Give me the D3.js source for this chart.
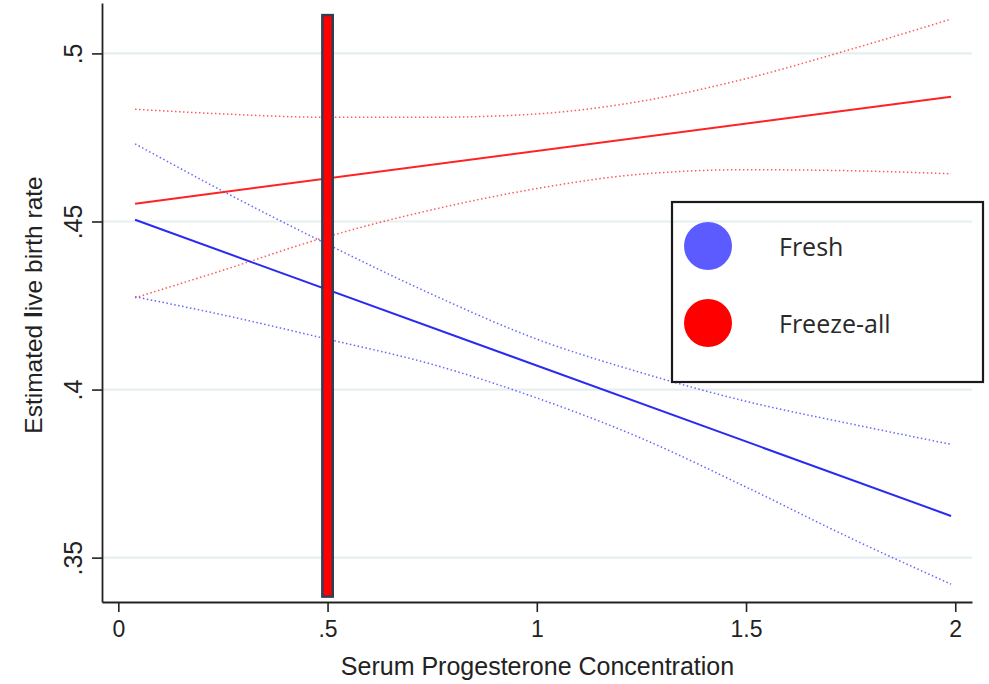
<!DOCTYPE html>
<html>
<head>
<meta charset="utf-8">
<script src="https://cdn.jsdelivr.net/npm/d3@7"></script>
<style>
  html, body { margin: 0; padding: 0; background: #fff; }
  svg { display: block; }
</style>
</head>
<body>
<svg id="chart" width="989" height="684"></svg>
<script>
// ---------- data ----------
const xTicks = [0, 0.5, 1, 1.5, 2];
const xTickLabels = ["0", ".5", "1", "1.5", "2"];
const yTicks = [0.35, 0.4, 0.45, 0.5];
const yTickLabels = [".35", ".4", ".45", ".5"];

const seriesNames = ["Fresh", "Freeze-all"];

// fitted lines (endpoints)
const fitX = [0.04, 1.99];
const freshFit = [0.4505, 0.3624];
const freezeFit = [0.4553, 0.4871];

// confidence bands
const ciX = [0.04, 0.25, 0.5, 0.75, 1.0, 1.25, 1.5, 1.75, 1.99];
const freshUpper = [0.4731, 0.4590, 0.4432, 0.4283, 0.4150, 0.4050, 0.3965, 0.3898, 0.3837];
const freshLower = [0.4276, 0.4222, 0.4150, 0.4075, 0.3975, 0.3855, 0.3710, 0.3558, 0.3421];
const freezeUpper = [0.4834, 0.4820, 0.4810, 0.4810, 0.4820, 0.4858, 0.4925, 0.5012, 0.5102];
const freezeLower = [0.4273, 0.4355, 0.4455, 0.4535, 0.4598, 0.4641, 0.4654, 0.4651, 0.4642];

// vertical marker bar at 0.5
const barX = 0.5;
const barTop = 0.5114;
const barBottom = 0.3384;

// ---------- layout ----------
const svg = d3.select("#chart");
const plotL = 102, plotR = 972, plotT = 3, plotB = 602;

const x = d3.scaleLinear().domain([-0.039, 2.040]).range([plotL, plotR]);
const y = d3.scaleLinear().domain([0.3368, 0.515]).range([plotB, plotT]);

const blue = "#2a2af2", red = "#ff2222";
const blueCI = "#4040ff", redCI = "#ff3030";

// gridlines
function drawGrid(g) {
  g.selectAll("line").data(yTicks).join("line")
    .attr("x1", plotL).attr("x2", plotR)
    .attr("y1", d => y(d)).attr("y2", d => y(d))
    .attr("stroke", "#e6eff0").attr("stroke-width", 2.2);
}
drawGrid(svg.append("g"));

// lines
const line = d3.line().x(d => x(d[0])).y(d => y(d[1]));
const curve = d3.line().x(d => x(d[0])).y(d => y(d[1])).curve(d3.curveMonotoneX);

function ci(vals, color) {
  svg.append("path")
    .attr("d", curve(ciX.map((v, i) => [v, vals[i]])))
    .attr("fill", "none").attr("stroke", color)
    .attr("stroke-width", 1.5).attr("stroke-dasharray", "1.5 2.5")
    .attr("opacity", 0.8);
}
ci(freshUpper, blueCI);
ci(freshLower, blueCI);
ci(freezeUpper, redCI);
ci(freezeLower, redCI);

svg.append("path")
  .attr("d", line(fitX.map((v, i) => [v, freshFit[i]])))
  .attr("fill", "none").attr("stroke", blue).attr("stroke-width", 2);
svg.append("path")
  .attr("d", line(fitX.map((v, i) => [v, freezeFit[i]])))
  .attr("fill", "none").attr("stroke", red).attr("stroke-width", 2);

// bar
svg.append("rect")
  .attr("x", x(barX) - 5.2).attr("width", 10.4)
  .attr("y", y(barTop)).attr("height", y(barBottom) - y(barTop))
  .attr("fill", "#ff0000").attr("stroke", "#2e4055").attr("stroke-width", 2.5);

// axes
const yAxis = d3.axisLeft(y).tickValues(yTicks)
  .tickFormat((d, i) => yTickLabels[i]).tickSize(10).tickSizeOuter(0);
const gy = svg.append("g").attr("transform", `translate(${plotL},0)`).call(yAxis);
gy.select(".domain").attr("stroke", "#222").attr("stroke-width", 1.8);
gy.selectAll(".tick line").attr("stroke", "#222").attr("stroke-width", 1.6);
gy.selectAll(".tick text")
  .attr("transform", "rotate(-90)")
  .attr("x", 0).attr("y", -20).attr("dy", 0)
  .attr("text-anchor", "middle")
  .attr("font-family", "'Liberation Sans', Arial, sans-serif")
  .attr("font-size", 25).attr("fill", "#222");

const xAxis = d3.axisBottom(x).tickValues(xTicks)
  .tickFormat((d, i) => xTickLabels[i]).tickSize(10).tickSizeOuter(0);
const gx = svg.append("g").attr("transform", `translate(0,${plotB})`).call(xAxis);
gx.select(".domain").attr("stroke", "#222").attr("stroke-width", 1.8);
gx.selectAll(".tick line").attr("stroke", "#222").attr("stroke-width", 1.6);
gx.selectAll(".tick text")
  .attr("y", 35).attr("dy", 0)
  .attr("font-family", "'Liberation Sans', Arial, sans-serif")
  .attr("font-size", 23).attr("fill", "#222");

// axis titles
svg.append("text")
  .attr("x", 537.5).attr("y", 675)
  .attr("text-anchor", "middle")
  .attr("font-family", "'Liberation Sans', Arial, sans-serif")
  .attr("font-size", 25).attr("fill", "#222")
  .text("Serum Progesterone Concentration");

const yt = svg.append("text")
  .attr("transform", "translate(42,305) rotate(-90)")
  .attr("text-anchor", "middle")
  .attr("font-family", "'Liberation Sans', Arial, sans-serif")
  .attr("font-size", 24.5).attr("fill", "#222");
yt.append("tspan").text("Estimated ");
yt.append("tspan").attr("font-weight", "bold").text("l");
yt.append("tspan").text("ive birth rate");

// legend
const lg = { x: 672, y: 202, w: 311, h: 180 };
svg.append("rect").attr("x", lg.x).attr("y", lg.y).attr("width", lg.w).attr("height", lg.h)
  .attr("fill", "#fff");
svg.append("clipPath").attr("id", "lgclip").append("rect")
  .attr("x", lg.x).attr("y", lg.y).attr("width", lg.w).attr("height", lg.h);
drawGrid(svg.append("g").attr("clip-path", "url(#lgclip)"));
svg.append("rect").attr("x", lg.x).attr("y", lg.y).attr("width", lg.w).attr("height", lg.h)
  .attr("fill", "none").attr("stroke", "#1a1a1a").attr("stroke-width", 2.2);

const legendColors = ["#5b5bff", "#ff0000"];
const legendY = [246, 323];
seriesNames.forEach((name, i) => {
  svg.append("circle").attr("cx", 708).attr("cy", legendY[i]).attr("r", 24)
    .attr("fill", legendColors[i]);
  svg.append("text").attr("x", 779).attr("y", legendY[i] + 10)
    .attr("font-family", "'Open Sans', sans-serif")
    .attr("font-size", 25).attr("fill", "#2a2a2a")
    .text(name);
});
</script>
</body>
</html>
